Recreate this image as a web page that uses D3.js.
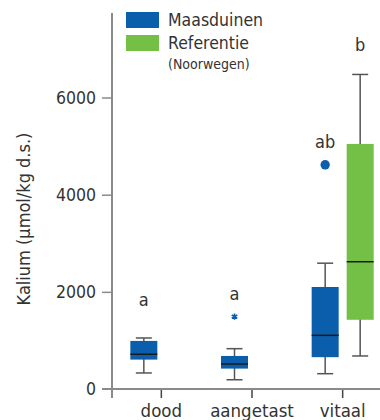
<!DOCTYPE html>
<html>
<head>
<meta charset="utf-8">
<script src="https://cdn.jsdelivr.net/npm/d3@7"></script>
<style>
  body { margin: 0; background: #fff; }
  text { font-family: "DejaVu Sans Condensed", "DejaVu Sans", sans-serif; fill: #333; }
</style>
</head>
<body>
<div id="container"></div>
<script>
// categories and series
const categories = ["dood", "aangetast", "vitaal"];
const series = ["Maasduinen", "Referentie"];
const seriesColor = ["#0b5eab", "#74bf45"];

// box stats (µmol/kg d.s.)
const boxCat    = ["dood", "aangetast", "vitaal", "vitaal"];
const boxSeries = ["Maasduinen", "Maasduinen", "Maasduinen", "Referentie"];
const whiskLo   = [330, 190, 315, 680];
const q1        = [605, 420, 655, 1425];
const median    = [715, 515, 1105, 2620];
const q3        = [990, 680, 2100, 5045];
const whiskHi   = [1050, 830, 2590, 6475];

// outliers
const outCat    = ["aangetast", "vitaal"];
const outSeries = ["Maasduinen", "Maasduinen"];
const outValue  = [1490, 4615];
const outShape  = ["star", "circle"];

// significance letters
const letterCat    = ["dood", "aangetast", "vitaal", "vitaal"];
const letterSeries = ["Maasduinen", "Maasduinen", "Maasduinen", "Referentie"];
const letterText   = ["a", "a", "ab", "b"];
const letterAt     = [1830, 1955, 5095, 7085];

const yTicks = [0, 2000, 4000, 6000];

const w = 380, h = 420;
const svg = d3.select("#container").append("svg")
  .attr("width", w).attr("height", h);

const yScale = d3.scaleLinear().domain([0, 7740]).range([389, 13]);
const xScale = d3.scaleBand().domain(categories).range([116, 388]).padding(0);
const xSub = d3.scaleBand().domain(series)
  .range([xScale.bandwidth() / 2 - 35, xScale.bandwidth() / 2 + 35]);
const cx = (c, s) => xScale(c) + xSub(s) + xSub.bandwidth() / 2;
const boxW = 27, capW = 16;

// y axis
const yAxis = d3.axisLeft(yScale).tickValues(yTicks).tickFormat(d3.format("d"))
  .tickSize(10).tickPadding(6).tickSizeOuter(0);
const gy = svg.append("g").attr("transform", "translate(112,0)").call(yAxis);
gy.select(".domain").remove();
gy.selectAll(".tick line").attr("stroke", "#8a8a8a").attr("stroke-width", 1.5);
gy.selectAll(".tick text").style("font-size", "17.5px").attr("fill", "#333");
gy.selectAll(".tick").filter(d => d === 0).select("line").remove();

// x axis
const xAxis = d3.axisBottom(xScale).tickSize(9).tickPadding(6).tickSizeOuter(0);
const gx = svg.append("g").attr("transform", "translate(0,389)").call(xAxis);
gx.select(".domain").remove();
gx.selectAll(".tick line").attr("stroke", "#444").attr("stroke-width", 1.5);
gx.selectAll(".tick text").style("font-size", "18.5px").attr("fill", "#333");

svg.append("line")
  .attr("x1", 102).attr("x2", w).attr("y1", yScale(0)).attr("y2", yScale(0))
  .attr("stroke", "#8a8a8a").attr("stroke-width", 2);
svg.append("line")
  .attr("x1", 112).attr("x2", 112).attr("y1", yScale.range()[1]).attr("y2", yScale(0) + 9)
  .attr("stroke", "#8a8a8a").attr("stroke-width", 2);

// y title
svg.append("text")
  .attr("transform", "translate(30,219) rotate(-90)")
  .attr("text-anchor", "middle")
  .style("font-size", "18px")
  .text("Kalium (µmol/kg d.s.)");

// boxes
const boxes = boxCat.map((c, i) => ({
  x: cx(c, boxSeries[i]),
  color: seriesColor[series.indexOf(boxSeries[i])],
  lo: whiskLo[i], q1: q1[i], med: median[i], q3: q3[i], hi: whiskHi[i]
}));

const g = svg.selectAll(".box").data(boxes).enter().append("g").attr("class", "box");
g.append("line")
  .attr("x1", d => d.x).attr("x2", d => d.x)
  .attr("y1", d => yScale(d.hi)).attr("y2", d => yScale(d.lo))
  .attr("stroke", "#555").attr("stroke-width", 1.5);
g.append("line")
  .attr("x1", d => d.x - capW / 2).attr("x2", d => d.x + capW / 2)
  .attr("y1", d => yScale(d.hi)).attr("y2", d => yScale(d.hi))
  .attr("stroke", "#555").attr("stroke-width", 1.5);
g.append("line")
  .attr("x1", d => d.x - capW / 2).attr("x2", d => d.x + capW / 2)
  .attr("y1", d => yScale(d.lo)).attr("y2", d => yScale(d.lo))
  .attr("stroke", "#555").attr("stroke-width", 1.5);
g.append("rect")
  .attr("x", d => d.x - boxW / 2).attr("width", boxW)
  .attr("y", d => yScale(d.q3)).attr("height", d => yScale(d.q1) - yScale(d.q3))
  .attr("fill", d => d.color);
g.append("line")
  .attr("x1", d => d.x - boxW / 2).attr("x2", d => d.x + boxW / 2)
  .attr("y1", d => yScale(d.med)).attr("y2", d => yScale(d.med))
  .attr("stroke", "#1a1a1a").attr("stroke-width", 1.5);

// outliers
outValue.forEach((v, i) => {
  const x = cx(outCat[i], outSeries[i]);
  const col = seriesColor[series.indexOf(outSeries[i])];
  if (outShape[i] === "circle") {
    svg.append("circle").attr("cx", x).attr("cy", yScale(v)).attr("r", 4.7).attr("fill", col);
  } else {
    svg.append("path")
      .attr("d", d3.symbol(d3.symbolAsterisk, 28)())
      .attr("transform", `translate(${x},${yScale(v)})`)
      .attr("stroke", col).attr("stroke-width", 1.6).attr("fill", "none");
  }
});

// letters
svg.selectAll(".letter").data(letterText).enter().append("text")
  .attr("class", "letter")
  .attr("x", (d, i) => cx(letterCat[i], letterSeries[i]))
  .attr("y", (d, i) => yScale(letterAt[i]))
  .attr("dy", "0.35em")
  .attr("text-anchor", "middle")
  .style("font-size", "18px")
  .text(d => d);

// legend
const legend = svg.append("g").attr("transform", "translate(126,12)");
series.forEach((s, i) => {
  legend.append("rect").attr("x", 0).attr("y", i * 23).attr("width", 33).attr("height", 16)
    .attr("fill", seriesColor[i]);
  legend.append("text").attr("x", 42).attr("y", i * 23 + 14)
    .style("font-size", "17.5px").text(s);
});
legend.append("text").attr("x", 42).attr("y", 57)
  .style("font-size", "14px").text("(Noorwegen)");
</script>
</body>
</html>
